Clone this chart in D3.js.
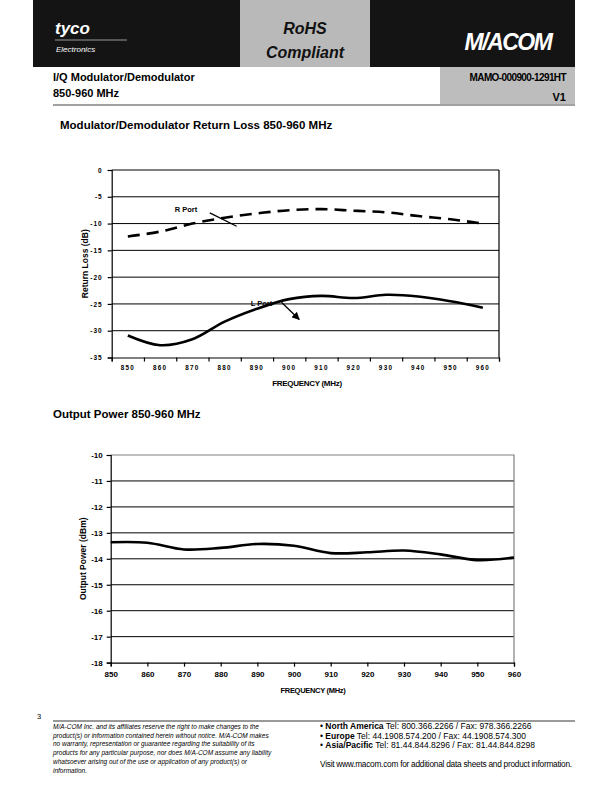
<!DOCTYPE html>
<html>
<head>
  <meta charset="utf-8">
  <script src="https://d3js.org/d3.v7.min.js"></script>
  <style>
    body { margin: 0; background: #fff; }
    svg text { font-family: "Liberation Sans", Arial, sans-serif; }
  </style>
</head>
<body>
<svg id="page" width="612" height="792"></svg>
<script>
  // --- data
  const freqs = [850, 860, 870, 880, 890, 900, 910, 920, 930, 940, 950, 960];
  const rPort = [-12.4, -11.5, -10.0, -8.9, -8.1, -7.5, -7.3, -7.6, -7.9, -8.6, -9.2, -10.0];
  const lPort = [-30.9, -32.7, -31.6, -28.3, -25.9, -24.1, -23.5, -23.9, -23.3, -23.6, -24.5, -25.7];
  const lossTicks = [0, -5, -10, -15, -20, -25, -30, -35];

  const powerFreqs = [850, 860, 870, 880, 890, 900, 910, 920, 930, 940, 950, 960];
  const power = [-13.36, -13.38, -13.64, -13.58, -13.43, -13.5, -13.78, -13.75, -13.68, -13.83, -14.05, -13.95];
  const powerTicks = [-10, -11, -12, -13, -14, -15, -16, -17, -18];

  // annotation labels (freq, dB) for the return loss chart
  const portNotes = [
    { label: 'R Port', tx: 868, ty: -7.9, x1: 875.4, y1: -8.0, x2: 883.7, y2: -10.5, head: false },
    { label: 'L Port', tx: 891.4, ty: -25.3, x1: 897.6, y1: -24.7, x2: 903.1, y2: -27.9, head: true }
  ];

  const svg = d3.select('#page');

  // ---------- page header
  svg.append('rect').attr('x', 33).attr('y', 0).attr('width', 542).attr('height', 67).attr('fill', '#141414');
  svg.append('rect').attr('x', 240).attr('y', 0).attr('width', 130).attr('height', 67).attr('fill', '#b9b9b9');
  svg.append('text').attr('x', 55).attr('y', 34).attr('fill', '#fff')
    .attr('font-size', 17).attr('font-weight', 'bold').attr('font-style', 'italic').text('tyco');
  svg.append('line').attr('x1', 55).attr('x2', 127).attr('y1', 40).attr('y2', 40).attr('stroke', '#999').attr('stroke-width', 1);
  svg.append('text').attr('x', 56).attr('y', 52).attr('fill', '#fff')
    .attr('font-size', 8).attr('font-style', 'italic').text('Electronics');
  svg.append('text').attr('x', 305).attr('y', 34).attr('text-anchor', 'middle')
    .attr('font-size', 16).attr('font-weight', 'bold').attr('font-style', 'italic').attr('fill', '#111').text('RoHS');
  svg.append('text').attr('x', 305).attr('y', 58).attr('text-anchor', 'middle')
    .attr('font-size', 16).attr('font-weight', 'bold').attr('font-style', 'italic').attr('fill', '#111').text('Compliant');
  svg.append('text').attr('x', 508).attr('y', 50).attr('text-anchor', 'middle').attr('fill', '#fff')
    .attr('font-size', 23).attr('font-weight', 'bold').attr('font-style', 'italic')
    .attr('letter-spacing', -1.5).text('M/ACOM');

  svg.append('rect').attr('x', 440).attr('y', 67).attr('width', 135).attr('height', 37).attr('fill', '#bdbdbd');
  svg.append('text').attr('x', 53).attr('y', 81).attr('font-size', 11).attr('font-weight', 'bold').text('I/Q Modulator/Demodulator');
  svg.append('text').attr('x', 53).attr('y', 97).attr('font-size', 11).attr('font-weight', 'bold').text('850-960 MHz');
  svg.append('text').attr('x', 566).attr('y', 81).attr('text-anchor', 'end').attr('font-size', 10)
    .attr('font-weight', 'bold').attr('letter-spacing', -0.6).text('MAMO-000900-1291HT');
  svg.append('text').attr('x', 566).attr('y', 101).attr('text-anchor', 'end').attr('font-size', 11)
    .attr('font-weight', 'bold').text('V1');
  svg.append('line').attr('x1', 53).attr('x2', 575).attr('y1', 105).attr('y2', 105).attr('stroke', '#444').attr('stroke-width', 1);

  // ---------- chart 1: return loss
  svg.append('text').attr('x', 60).attr('y', 129).attr('font-size', 11.5).attr('font-weight', 'bold')
    .text('Modulator/Demodulator Return Loss 850-960 MHz');

  const c1 = { left: 111.7, right: 499, top: 170, bottom: 357.5 };
  const x1 = d3.scaleLinear().domain([845, 965]).range([c1.left, c1.right]);
  const y1 = d3.scaleLinear().domain([-35, 0]).range([c1.bottom, c1.top]);
  const g1 = svg.append('g');

  // horizontal gridlines
  g1.selectAll('line.grid').data(lossTicks.filter(d => d > -35)).join('line')
    .attr('x1', c1.left).attr('x2', c1.right)
    .attr('y1', d => y1(d)).attr('y2', d => y1(d))
    .attr('stroke', '#000').attr('stroke-width', 1);
  g1.append('line').attr('x1', c1.right).attr('x2', c1.right).attr('y1', c1.top).attr('y2', c1.bottom)
    .attr('stroke', '#000').attr('stroke-width', 1.2);

  const yAxis1 = d3.axisLeft(y1).tickValues(lossTicks).tickSize(4).tickFormat(d => String(d));
  g1.append('g').attr('transform', `translate(${c1.left},0)`).call(yAxis1)
    .call(g => g.selectAll('text').attr('font-size', 6.5).attr('font-weight', 'bold').attr('letter-spacing', 1).attr('dx', -2))
    .call(g => g.selectAll('line, path').attr('stroke', '#000').attr('stroke-width', 1.2));

  // category style x axis: ticks on the boundaries, labels in the middle
  const boundaries = d3.range(845, 966, 10);
  const xAxis1 = d3.axisBottom(x1).tickValues(boundaries).tickSize(4).tickFormat('');
  g1.append('g').attr('transform', `translate(0,${c1.bottom})`).call(xAxis1)
    .call(g => g.selectAll('line, path').attr('stroke', '#000').attr('stroke-width', 1.2));
  g1.selectAll('text.xlab').data(freqs).join('text')
    .attr('x', d => x1(d)).attr('y', c1.bottom + 12)
    .attr('text-anchor', 'middle').attr('font-size', 6.3).attr('font-weight', 'bold')
    .attr('letter-spacing', 1.3).text(d => d);

  svg.append('text').attr('transform', `translate(88,${(c1.top + c1.bottom) / 2}) rotate(-90)`)
    .attr('text-anchor', 'middle').attr('font-size', 8.5).attr('font-weight', 'bold').text('Return Loss (dB)');
  svg.append('text').attr('x', 307).attr('y', 386).attr('text-anchor', 'middle')
    .attr('font-size', 8).attr('font-weight', 'bold').attr('letter-spacing', -0.3).text('FREQUENCY (MHz)');

  const line1 = vals => d3.line().x((d, i) => x1(freqs[i])).y(d => y1(d)).curve(d3.curveCatmullRom.alpha(0.5))(vals);
  g1.append('path').attr('d', line1(lPort)).attr('fill', 'none').attr('stroke', '#000').attr('stroke-width', 2.6);
  g1.append('path').attr('d', line1(rPort)).attr('fill', 'none').attr('stroke', '#000').attr('stroke-width', 2.6)
    .attr('stroke-dasharray', '12,7');

  svg.append('defs').append('marker').attr('id', 'head').attr('viewBox', '0 0 10 10')
    .attr('refX', 9).attr('refY', 5).attr('markerWidth', 6).attr('markerHeight', 6).attr('orient', 'auto')
    .append('path').attr('d', 'M0,0 L10,5 L0,10 z').attr('fill', '#000');

  portNotes.forEach(n => {
    g1.append('text').attr('x', x1(n.tx)).attr('y', y1(n.ty)).attr('text-anchor', 'middle')
      .attr('font-size', 7.5).attr('font-weight', 'bold').text(n.label);
    g1.append('line').attr('x1', x1(n.x1)).attr('y1', y1(n.y1)).attr('x2', x1(n.x2)).attr('y2', y1(n.y2))
      .attr('stroke', '#000').attr('stroke-width', 1.3)
      .attr('marker-end', n.head ? 'url(#head)' : null);
  });

  // ---------- chart 2: output power
  svg.append('text').attr('x', 53).attr('y', 418).attr('font-size', 11.5).attr('font-weight', 'bold')
    .text('Output Power 850-960 MHz');

  const c2 = { left: 110.7, right: 514, top: 455, bottom: 662.6 };
  const x2 = d3.scaleLinear().domain([850, 960]).range([c2.left, c2.right]);
  const y2 = d3.scaleLinear().domain([-18, -10]).range([c2.bottom, c2.top]);
  const g2 = svg.append('g');

  g2.selectAll('line.grid').data(powerTicks.filter(d => d > -18 && d < -10)).join('line')
    .attr('x1', c2.left).attr('x2', c2.right)
    .attr('y1', d => y2(d)).attr('y2', d => y2(d))
    .attr('stroke', '#000').attr('stroke-width', 1);
  g2.append('path')
    .attr('d', `M${c2.left},${y2(-10)}H${c2.right}V${c2.bottom}`)
    .attr('fill', 'none').attr('stroke', '#808080').attr('stroke-width', 1.2);

  const yAxis2 = d3.axisLeft(y2).tickValues(powerTicks).tickSize(4).tickFormat(d => String(d));
  g2.append('g').attr('transform', `translate(${c2.left},0)`).call(yAxis2)
    .call(g => g.selectAll('text').attr('font-size', 8).attr('font-weight', 'bold').attr('dx', -1))
    .call(g => g.selectAll('line, path').attr('stroke', '#000').attr('stroke-width', 1.2));
  const xAxis2 = d3.axisBottom(x2).tickValues(powerFreqs).tickSize(4);
  g2.append('g').attr('transform', `translate(0,${c2.bottom})`).call(xAxis2)
    .call(g => g.selectAll('text').attr('font-size', 8).attr('font-weight', 'bold').attr('dy', '0.9em'))
    .call(g => g.selectAll('line, path').attr('stroke', '#000').attr('stroke-width', 1.2));

  svg.append('text').attr('transform', `translate(86,${(c2.top + c2.bottom) / 2}) rotate(-90)`)
    .attr('text-anchor', 'middle').attr('font-size', 8.5).attr('font-weight', 'bold').text('Output Power (dBm)');
  svg.append('text').attr('x', 313).attr('y', 693).attr('text-anchor', 'middle')
    .attr('font-size', 7.5).attr('font-weight', 'bold').attr('letter-spacing', -0.3).text('FREQUENCY (MHz)');

  const line2 = d3.line().x((d, i) => x2(powerFreqs[i])).y(d => y2(d)).curve(d3.curveCatmullRom.alpha(0.5));
  g2.append('path').attr('d', line2(power)).attr('fill', 'none').attr('stroke', '#000').attr('stroke-width', 2.6);

  // ---------- footer
  svg.append('text').attr('x', 37).attr('y', 719).attr('font-size', 7.5).text('3');
  svg.append('line').attr('x1', 53).attr('x2', 575).attr('y1', 721).attr('y2', 721).attr('stroke', '#000').attr('stroke-width', 0.8);

  const disclaimer = [
    'M/A-COM Inc. and its affiliates reserve the right to make changes to the',
    'product(s) or information contained herein without notice. M/A-COM makes',
    'no warranty, representation or guarantee regarding the suitability of its',
    'products for any particular purpose, nor does M/A-COM assume any liability',
    'whatsoever arising out of the use or application of any product(s) or',
    'information.'
  ];
  svg.selectAll('text.disc').data(disclaimer).join('text')
    .attr('x', 53).attr('y', (d, i) => 729 + i * 8.7)
    .attr('font-size', 6.5).attr('font-style', 'italic').text(d => d);

  const offices = [
    ['North America', 'Tel: 800.366.2266 / Fax: 978.366.2266'],
    ['Europe', 'Tel: 44.1908.574.200 / Fax: 44.1908.574.300'],
    ['Asia/Pacific', 'Tel: 81.44.844.8296 / Fax: 81.44.844.8298']
  ];
  offices.forEach((o, i) => {
    const t = svg.append('text').attr('x', 320).attr('y', 729 + i * 9.5).attr('font-size', 8.5);
    t.append('tspan').text('\u2022  ');
    t.append('tspan').attr('font-weight', 'bold').text(o[0]);
    t.append('tspan').text('  ' + o[1]);
  });
  svg.append('text').attr('x', 320).attr('y', 767).attr('font-size', 8.3).attr('letter-spacing', -0.25)
    .text('Visit www.macom.com for additional data sheets and product information.');
</script>
</body>
</html>
